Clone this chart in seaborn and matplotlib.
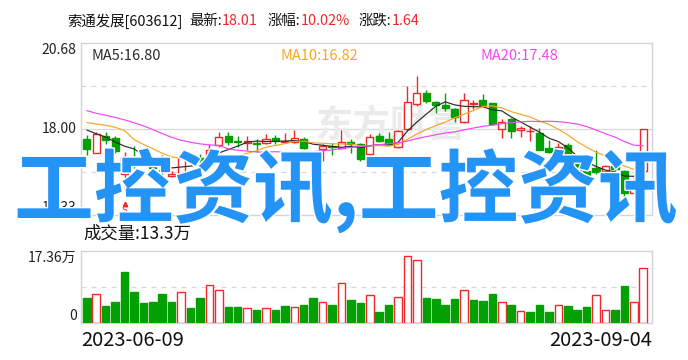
import numpy as np
import pandas as pd
import matplotlib
matplotlib.use("Agg")
import matplotlib.pyplot as plt
import matplotlib.transforms as mtransforms
from matplotlib import patheffects as pe
import seaborn as sns

# ---- 索通发展 daily bars (2023-06-09 .. 2023-09-04) ----
stock_name = "索通发展"
stock_code = "603612"
date_labels = ["2023-06-09", "2023-09-04"]

open_ = [17.69, 17.25, 17.77, 17.72, 16.60, 17.10, 17.12, 16.83, 16.73, 16.54,
         16.63, 17.10, 17.10, 17.02, 17.49, 17.79, 17.63, 17.58, 17.56, 17.58,
         17.72, 17.61, 17.61, 17.68, 17.04, 17.37, 17.46, 17.40, 17.61, 17.54,
         17.22, 17.79, 17.69, 17.45, 18.00, 18.77, 19.12, 18.85, 18.75, 18.62,
         18.23, 18.78, 18.91, 18.80, 18.01, 18.31, 17.98, 17.93, 17.89, 17.40,
         17.39, 17.51, 17.02, 16.71, 16.80, 16.71, 16.85, 16.70, 16.01, 16.71]
high = [17.81, 17.92, 17.92, 17.79, 17.30, 17.47, 17.20, 17.00, 17.20, 16.70,
        17.16, 17.20, 17.22, 17.54, 17.91, 17.91, 17.77, 17.77, 17.70, 17.83,
        17.81, 17.89, 17.97, 17.75, 17.28, 17.54, 17.58, 17.97, 17.68, 17.58,
        17.84, 17.89, 17.91, 17.97, 19.32, 19.65, 19.22, 18.88, 19.12, 18.66,
        19.13, 18.91, 19.08, 18.82, 18.31, 18.33, 18.08, 18.10, 18.02, 17.66,
        17.58, 17.56, 17.10, 16.76, 17.35, 16.88, 16.88, 16.73, 16.50, 18.01]
low = [17.20, 17.24, 17.54, 17.25, 16.09, 16.80, 16.85, 16.50, 16.47, 16.50,
       16.60, 16.92, 16.95, 17.00, 17.44, 17.51, 17.45, 17.35, 17.30, 17.52,
       17.54, 17.58, 17.58, 17.38, 16.37, 17.00, 17.18, 17.38, 17.27, 17.00,
       17.18, 17.60, 17.50, 17.40, 17.97, 18.72, 18.80, 18.49, 18.57, 18.21,
       18.20, 18.63, 18.72, 18.12, 17.72, 17.72, 17.74, 17.62, 17.34, 17.26,
       17.10, 17.01, 16.60, 16.40, 16.60, 16.63, 16.70, 15.87, 16.00, 16.68]
close = [17.37, 17.85, 17.66, 17.33, 17.12, 16.95, 16.92, 16.78, 16.71, 16.60,
         17.09, 17.06, 17.04, 17.35, 17.75, 17.61, 17.60, 17.63, 17.54, 17.68,
         17.64, 17.63, 17.72, 17.40, 17.25, 17.48, 17.44, 17.59, 17.54, 17.06,
         17.74, 17.63, 17.54, 17.95, 18.84, 19.12, 18.86, 18.75, 18.65, 18.37,
         18.89, 18.80, 18.75, 18.15, 18.23, 17.95, 18.02, 17.95, 17.36, 17.30,
         17.43, 17.04, 16.65, 16.42, 16.66, 16.85, 16.76, 16.01, 16.37, 18.01]
# volume in 万手
volume = [6.0, 7.1, 4.1, 5.0, 12.3, 7.5, 4.8, 5.0, 7.0, 5.0,
          7.4, 3.6, 6.0, 9.3, 8.1, 3.8, 3.8, 3.7, 3.3, 3.7,
          3.1, 4.1, 4.0, 4.3, 6.0, 5.2, 4.3, 9.6, 5.5, 4.8,
          6.7, 2.6, 4.3, 6.2, 16.1, 15.2, 6.0, 5.8, 4.5, 5.8,
          8.1, 5.5, 5.3, 7.0, 5.2, 4.5, 3.0, 2.8, 4.3, 2.6,
          4.5, 4.1, 3.1, 3.8, 6.7, 3.2, 3.1, 8.9, 5.2, 13.3]
# closes of the sessions just before the window; they only feed the moving averages
prior_close = [19.48, 18.90, 18.70, 18.60, 18.76, 18.85, 19.05, 19.20, 19.00, 18.86,
               18.30, 18.05, 17.95, 18.16, 19.69, 18.45, 18.16, 18.08, 17.79]

price_range = (15.33, 20.68)
price_tick_labels = ["20.68", "18.00", "15.33"]
price_ticks = [20.68, 18.00, 15.33]
volume_max = 17.36
watermark = "工控资讯,工控资讯"

RED = "#f0282a"
GREEN = "#03a003"
MA_COLORS = {5: "#2b2b2b", 10: "#f6a623", 20: "#f546f5"}
FRAME = "#d3d3db"
GRID = "#d8d8d8"

sns.set_theme(style="white")
plt.rcParams["font.family"] = ["Noto Sans CJK SC", "DejaVu Sans"]

W, H = 688, 360
fig = plt.figure(figsize=(W / 100, H / 100), dpi=100)
fig.patch.set_facecolor("white")


def px_axes(left, top, right, bottom):
    return fig.add_axes([left / W, 1 - bottom / H, (right - left) / W, (bottom - top) / H])


ax_p = px_axes(80.7, 42.7, 651.7, 215.0)
ax_v = px_axes(80.7, 251.0, 651.7, 323.3)

n = len(close)
idx = np.arange(n)
o = np.array(open_)
c = np.array(close)
hi = np.array(high)
lo = np.array(low)
vol = np.array(volume)
up = c >= o
prev_close = np.concatenate([[prior_close[-1]], c[:-1]])
vol_up = c >= prev_close

# moving averages over the full close history
full = pd.Series(list(prior_close) + list(close))
mas = {k: full.rolling(k).mean().iloc[len(prior_close):].to_numpy() for k in (5, 10, 20)}

xlim = (-0.65, n - 0.1)

# ---- price panel ----
ax = ax_p
ax.set_xlim(*xlim)
ax.set_ylim(*price_range)
lo_p, hi_p = price_range
quarters = np.linspace(lo_p, hi_p, 5)
for q in (quarters[1], quarters[3]):
    ax.axhline(q, color=GRID, lw=0.9, ls=(0, (4, 4)), zorder=0)
ax.axhline(price_ticks[1], color=GRID, lw=0.9, zorder=0)

# faint broker logo text behind the bars
ax.text(0.412, 0.515, "东方财富", transform=ax.transAxes, fontsize=27, fontweight="bold",
        color="#ebebeb", ha="left", va="center", zorder=0.5)

cols = np.where(up, RED, GREEN)
ax.vlines(idx, lo, hi, colors=cols, lw=1.0, zorder=2)
body_h = np.maximum(np.abs(c - o), 0.012)
ax.bar(idx, body_h, bottom=np.minimum(o, c), width=0.76,
       color=np.where(up, "white", GREEN), edgecolor=cols, linewidth=1.0, zorder=3)

for k in (5, 10, 20):
    sns.lineplot(x=idx, y=mas[k], ax=ax, color=MA_COLORS[k], lw=0.85, zorder=4,
                 legend=False, estimator=None, sort=False)

# sell marker under the fifth session
ax.plot([4], [15.66], marker="^", color=RED, ms=3.2, zorder=5)
ax.text(4, 15.47, "S", color=RED, fontsize=6.5, ha="center", va="center",
        family=["DejaVu Sans"], zorder=5)

ax.set_xticks([])
ax.set_yticks([])
ax.set_xlabel("")
ax.set_ylabel("")
for s in ax.spines.values():
    s.set_color(FRAME)
    s.set_linewidth(1.0)

ytr = mtransforms.blended_transform_factory(ax.transAxes, ax.transData)
for val, lab, va in zip(price_ticks, price_tick_labels, ["top", "center", "bottom"]):
    ax.text(-0.007, val, lab, transform=ytr, ha="right", va=va, fontsize=10, color="#222222")

ma_x = [91, 280, 481]
for (k, xp) in zip((5, 10, 20), ma_x):
    fig.text(xp / W, 1 - 56 / H, f"MA{k}:{mas[k][-1]:.2f}", color=MA_COLORS[k],
             fontsize=10.5, ha="left", va="center")

# ---- volume panel ----
ax = ax_v
ax.set_xlim(*xlim)
ax.set_ylim(0, volume_max)
ax.axhline(volume_max / 2, color=GRID, lw=0.9, ls=(0, (4, 4)), zorder=0)
vcols = np.where(vol_up, RED, GREEN)
ax.bar(idx, vol, width=0.8, color=np.where(vol_up, "white", GREEN),
       edgecolor=vcols, linewidth=1.0, zorder=3)
ax.set_xticks([])
ax.set_yticks([])
for s in ax.spines.values():
    s.set_color(FRAME)
    s.set_linewidth(1.0)
ytr_v = mtransforms.blended_transform_factory(ax.transAxes, ax.transData)
ax.text(-0.007, volume_max, f"{volume_max:.2f}万", transform=ytr_v, ha="right", va="top",
        fontsize=10, color="#222222")
ax.text(-0.007, 0, "0", transform=ytr_v, ha="right", va="bottom", fontsize=10, color="#222222")

fig.text(83 / W, 1 - 234 / H, f"成交量:{vol[-1]:.1f}万", fontsize=12.5, color="#111111",
         ha="left", va="center")

# dates under the volume panel
fig.text(81 / W, 1 - 340 / H, date_labels[0], fontsize=14.5, color="#111111", ha="left", va="center")
fig.text(652 / W, 1 - 340 / H, date_labels[1], fontsize=14.5, color="#111111", ha="right", va="center")

# ---- header line ----
last = c[-1]
chg = c[-1] - c[-2]
pct = chg / c[-2] * 100
segments = [
    (f"{stock_name}[{stock_code}]", "#111111", 7),
    ("最新:", "#111111", 0),
    (f"{last:.2f}", RED, 10),
    ("涨幅:", "#111111", 0),
    (f"{pct:.2f}%", RED, 9),
    ("涨跌:", "#111111", 0),
    (f"{chg:.2f}", RED, 0),
]
fig.canvas.draw()
renderer = fig.canvas.get_renderer()
xpos = 67.0
for txt, col, gap in segments:
    t = fig.text(xpos / W, 1 - 21 / H, txt, color=col, fontsize=10.4, ha="left", va="center")
    bb = t.get_window_extent(renderer=renderer)
    xpos += bb.width + gap

# ---- overlaid caption ----
wm = fig.text(346 / W, 1 - 191 / H, watermark, fontsize=58, fontweight="bold",
              color="#2393f6", ha="center", va="center", zorder=20,
              path_effects=[pe.withStroke(linewidth=2, foreground="white")])
bb = wm.get_window_extent(renderer=renderer)
wm.set_fontsize(58 * 663 / bb.width)

fig.savefig("out.png", dpi=100, facecolor="white")
